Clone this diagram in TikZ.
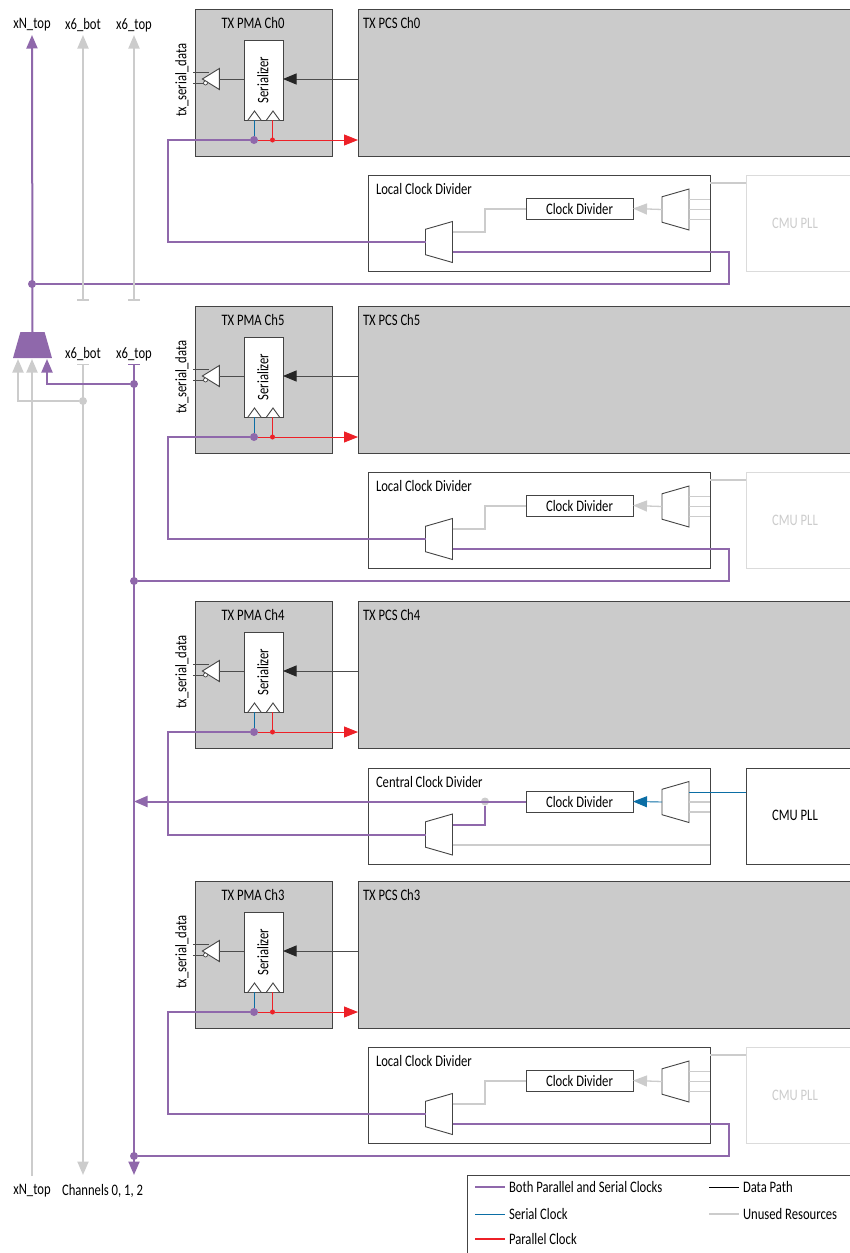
\documentclass[tikz,border=0pt]{standalone}
\usepackage{fontspec}
\setmainfont[FakeStretch=0.79]{Carlito}
\usepackage{xcolor}
\usetikzlibrary{arrows.meta,shapes.geometric,positioning}
\definecolor{clkpurple}{HTML}{8F68AB}
\definecolor{clkblue}{HTML}{0B6EA5}
\definecolor{clkred}{HTML}{ED2027}
\definecolor{unused}{HTML}{CCCCCC}
\definecolor{panel}{HTML}{CBCBCB}
\definecolor{boxline}{HTML}{444444}
\tikzset{
  every node/.style={outer sep=0pt,font=\fontsize{16}{18}\selectfont,text=black},
  panelbox/.style={draw=boxline,fill=panel,line width=0.9pt,minimum height=147pt},
  divbox/.style={draw=boxline,fill=white,line width=0.9pt,minimum width=342pt,minimum height=96pt},
  plldark/.style={draw=boxline,fill=white,line width=0.9pt,minimum width=124pt,minimum height=96pt},
  pllfade/.style={draw=unused!70,fill=white,line width=0.9pt,minimum width=124pt,minimum height=96pt},
  cdivbox/.style={draw=boxline,fill=white,line width=0.9pt,minimum width=107pt,minimum height=21pt,inner sep=0pt},
  serbox/.style={draw=boxline,fill=white,line width=0.9pt,minimum width=39pt,minimum height=80pt},
  muxbox/.style={draw=boxline,fill=white,line width=0.9pt,trapezium,trapezium stretches=true,
    trapezium angle=73,minimum width=41pt,minimum height=27pt,inner sep=1pt,rotate=90},
  bufbox/.style={draw=boxline,fill=white,line width=0.9pt,isosceles triangle,isosceles triangle stretches,
    minimum width=21pt,minimum height=17pt,inner sep=0pt,rotate=180},
  pdot/.style={circle,fill=clkpurple,inner sep=0pt,minimum size=8pt},
  rdot/.style={circle,fill=clkred,inner sep=0pt,minimum size=5pt},
  gdot/.style={circle,fill=unused,inner sep=0pt,minimum size=8pt},
  bubble/.style={circle,draw=boxline,fill=white,line width=0.7pt,inner sep=0pt,minimum size=4pt},
  purplewire/.style={draw=clkpurple,line width=2pt},
  graywire/.style={draw=unused,line width=2pt},
  thingray/.style={draw=unused,line width=1.3pt},
  bluewire/.style={draw=clkblue,line width=0.9pt},
  redwire/.style={draw=clkred,line width=0.9pt},
  legendred/.style={draw=clkred,line width=1.3pt},
  blackwire/.style={draw=black,line width=0.9pt},
  datawire/.style={draw=black!70,line width=0.9pt},
  bigtip/.style={-{Triangle[length=13.5pt,width=11pt]}},
}
\begin{document}
\begin{tikzpicture}[x=1pt,y=-1pt]
    \useasboundingbox (0,0) rectangle (850,1253);
    \foreach \ch/\yy in {0/0,5/297,4/592,3/872}{
        \begin{scope}[shift={(0,\yy)}]
            \node[panelbox,minimum width=137pt] (pma\ch) at (263.5,82.5) {};
            \node[panelbox,minimum width=512pt] (pcs\ch) at (614,82.5) {};
            \node (pmatitle\ch) at (253,23) {TX PMA Ch\ch};
            \node[anchor=west,inner sep=0pt] (pcstitle\ch) at (363,23) {TX PCS Ch\ch};
            \node[rotate=90] (txdata\ch) at (182,80) {tx\_serial\_data};
            \node[serbox] (ser\ch) at (263.5,80) {};
            \node[rotate=90] (sertxt\ch) at (263,80) {Serializer};
            \node[bufbox] (buf\ch) at (213.5,79) {};
            \node[pdot] (jp\ch) at (254,140) {};
            \node[rdot] (jr\ch) at (272.5,140) {};
            \coordinate (txp\ch) at (193,72);
            \coordinate (txn\ch) at (193,83);
            \draw[datawire] (txp\ch) -- (209,72);
            \draw[datawire] (txn\ch) -- (204,83);
            \node[bubble] (bub\ch) at (205.5,83) {};
            \draw[boxline,line width=0.9pt,fill=white] (248,120) -- (254.5,111) -- (261,120);
            \draw[boxline,line width=0.9pt,fill=white] (266.5,120) -- (273,111) -- (279.5,120);
            \draw[datawire] (buf\ch.west) -- (ser\ch.west |- buf\ch.west);
            \draw[datawire,-{Triangle[length=13.5pt,width=11pt,color=black!85]}] (pcs\ch.west |- buf\ch.west) -- (ser\ch.east |- buf\ch.west);
            \draw[bluewire] (jp\ch) -- (jp\ch |- ser\ch.south);
            \draw[redwire] (jr\ch) -- (jr\ch |- ser\ch.south);
            \draw[redwire] (jp\ch) -- (jr\ch);
            \draw[redwire,-{Triangle[length=14pt,width=11pt]}] (jr\ch) -- (pcs\ch.west |- jr\ch);
        \end{scope}
    }
    \foreach \ch/\yy/\bus in {0/0/32,5/297/134,3/872/134}{
        \begin{scope}[shift={(0,\yy)}]
            \node[pllfade] (pll\ch) at (808,223) {};
            \node[text=unused] (plltxt\ch) at (795,223) {CMU PLL};
            \node[divbox] (ldiv\ch) at (539,223) {};
            \node[anchor=west,inner sep=0pt] (ltitle\ch) at (376,189) {Local Clock Divider};
            \node[cdivbox] (cdiv\ch) at (579.5,208.5) {Clock Divider};
            \node[muxbox] (rmux\ch) at (675.5,209.5) {};
            \node[muxbox] (lmux\ch) at (439,242) {};
            \node[pdot] (jb\ch) at (\bus,284) {};
            \draw[thingray] ([yshift=-8pt]ldiv\ch.north east) -- ([yshift=-8pt]pll\ch.north west);
            \draw[thingray] (rmux\ch.south) -- +(21,0);
            \draw[thingray] ([yshift=10pt]rmux\ch.south) -- +(21,0);
            \draw[thingray] ([yshift=-10pt]rmux\ch.south) -- +(21,0);
            \draw[thingray,-{Triangle[length=14pt,width=11pt,color=unused]}] (rmux\ch.north) -- (cdiv\ch.east);
            \draw[graywire] ([yshift=10pt]lmux\ch.south) -- ++(32,0) |- (cdiv\ch.west);
            \draw[purplewire] ([yshift=-10pt]lmux\ch.south) -- (728.5,252) -- (728.5,284) -- (jb\ch);
        \end{scope}
        \draw[purplewire] (jp\ch) -- ++(-86,0) |- (lmux\ch.north);
    }
    \node[plldark] (pll4) at (808,816) {};
    \node (plltxt4) at (795,815) {CMU PLL};
    \node[divbox] (cdivbig) at (539,816) {};
    \node[anchor=west,inner sep=0pt] (ctitle) at (376,782) {Central Clock Divider};
    \node[cdivbox] (cdiv4) at (579.5,801.5) {Clock Divider};
    \node[muxbox] (rmux4) at (675.5,802) {};
    \node[muxbox] (lmux4) at (439,834.5) {};
    \node[gdot] (jc) at (485,801.5) {};
    \coordinate (busc) at (134,801.5);
    \draw[purplewire] (jp4) -- ++(-86,0) |- (lmux4.north);
    \draw[purplewire,bigtip] (cdiv4.west) -- (busc);
    \draw[purplewire] (jc) |- ([yshift=9.5pt]lmux4.south);
    \draw[graywire] ([yshift=-10.5pt]lmux4.south) -- +(257,0);
    \draw[bluewire] ([yshift=10pt]rmux4.south) -- +(57,0);
    \draw[thingray] (rmux4.south) -- +(21,0);
    \draw[thingray] ([yshift=-10pt]rmux4.south) -- +(21,0);
    \draw[bluewire,-{Triangle[length=14pt,width=11pt]}] (rmux4.north) -- (cdiv4.east);
    \node (xntop) at (32,25) {xN\_top};
    \node (xbottop) at (83,25) {x6\_bot};
    \node (xtoptop) at (134,25) {x6\_top};
    \node (xbotmid) at (83,354) {x6\_bot};
    \node (xtopmid) at (134,354) {x6\_top};
    \node (xnbot) at (32,1191) {xN\_top};
    \node (chbot) at (102.5,1191) {Channels 0, 1, 2};
    \node[trapezium,trapezium stretches=true,trapezium angle=73,fill=clkpurple,minimum width=39pt,minimum height=26pt,inner sep=1pt] (xmux) at (32.5,345) {};
    \node[gdot] (jg) at (83,401) {};
    \node[pdot] (jm) at (134,384) {};
    \coordinate (xntip) at (32,35);
    \coordinate (bottip) at (83,35);
    \coordinate (toptip) at (134,35);
    \coordinate (botbar) at (83,300.5);
    \coordinate (topbar) at (134,300.5);
    \coordinate (botbarm) at (83,364);
    \coordinate (topbarm) at (134,364);
    \coordinate (botend) at (83,1175);
    \coordinate (topend) at (134,1175);
    \coordinate (xnend) at (32,1176);
    \coordinate (gin) at (18,359);
    \coordinate (nin) at (32,359);
    \coordinate (pin) at (47,359);
    \draw[purplewire,bigtip] (xmux.north) -- (xntip);
    \draw[graywire,{Bar[width=12pt,line width=1.4pt]}-{Triangle[length=13.5pt,width=11pt,color=unused]}] (botbar) -- (bottip);
    \draw[graywire,{Bar[width=12pt,line width=1.4pt]}-{Triangle[length=13.5pt,width=11pt,color=unused]}] (topbar) -- (toptip);
    \draw[graywire,{Bar[width=12pt,line width=1.4pt]}-{Triangle[length=13.5pt,width=11pt,color=unused]}] (botbarm) -- (botend);
    \draw[graywire,-{Triangle[length=13.5pt,width=11pt,color=unused]}] (jg) -| (gin);
    \draw[graywire,-{Triangle[length=13.5pt,width=11pt,color=unused]}] (xnend) -- (nin);
    \draw[purplewire,{Bar[width=12pt,line width=1.4pt]}-{Triangle[length=13.5pt,width=11pt]}] (topbarm) -- (topend);
    \draw[purplewire,bigtip] (jm) -| (pin);
    \node[draw=boxline,fill=white,line width=0.9pt,minimum width=393pt,minimum height=88pt] (legend) at (663.5,1219) {};
    \foreach \nm/\xx/\yy/\sty/\txt in {both/475/1187/purplewire/Both Parallel and Serial Clocks,
        ser/475/1214/bluewire/Serial Clock,par/475/1239/legendred/Parallel Clock,
        dat/709/1187/blackwire/Data Path,unu/709/1214/graywire/Unused Resources}{
        \coordinate (lg\nm) at (\xx,\yy);
        \node[anchor=west,inner xsep=4pt,inner ysep=0pt] (lgtxt\nm) at (\xx+30,\yy) {\txt};
        \draw[\sty] (lg\nm) -- (lgtxt\nm);
    }
\end{tikzpicture}
\end{document}
